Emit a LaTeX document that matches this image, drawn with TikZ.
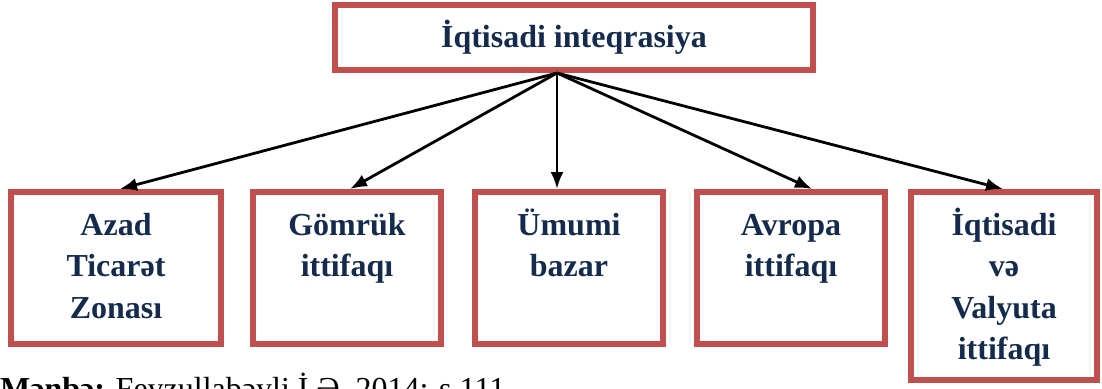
\documentclass[tikz,border=0pt]{standalone}
\usepackage{fontspec}
\setmainfont{Liberation Serif}
\usepackage{tikz}
\usetikzlibrary{positioning, calc}
\usetikzlibrary{arrows.meta}

\definecolor{boxred}{HTML}{C0504D}
\definecolor{navy}{HTML}{142B4C}
\newcommand{\boxtext}[3]{\parbox[t][#1][t]{#2}{\centering\rule{0pt}{43pt}#3}}

\begin{document}
\begin{tikzpicture}[x=1pt, y=-1pt,
    kutu/.style={draw=boxred, line width=6pt, inner sep=0pt, text=navy,
        font=\fontsize{32}{41.5}\selectfont\bfseries},
    ox/.style={-{Latex[length=17pt,width=13pt]}, line width=2.8pt}]
                \useasboundingbox (0,0) rectangle (1102,388);
                \node[kutu] (top) at (574,37.25) {\boxtext{65.5pt}{478.5pt}{İqtisadi inteqrasiya}};
                \node[kutu] (azad) at (116,268) {\boxtext{152pt}{210pt}{Azad\\Ticarət\\Zonası}};
                \node[kutu] (gomruk) at (347,268) {\boxtext{152pt}{188pt}{Gömrük\\ittifaqı}};
                \node[kutu] (bazar) at (569,268) {\boxtext{152pt}{187.5pt}{Ümumi\\bazar}};
                \node[kutu] (avropa) at (791,268) {\boxtext{152pt}{188.5pt}{Avropa\\ittifaqı}};
                \node[kutu] (valyuta) at (1004,286) {\boxtext{188pt}{186pt}{İqtisadi\\və\\Valyuta\\ittifaqı}};
                \coordinate (src) at ([xshift=-17pt]top.south);
                \draw[ox] (src) -- ([xshift=4pt]azad.north);
                \draw[ox] (src) -- ([xshift=3pt]gomruk.north);
                \draw[ox] (src) -- ([xshift=-12pt]bazar.north);
                \draw[ox] (src) -- ([xshift=21pt]avropa.north);
                \draw[ox] (src) -- ([xshift=-1pt]valyuta.north);
                \node[anchor=base west, inner sep=0pt, font=\fontsize{32}{38}\selectfont] (menbe) at (0,399) {\textbf{Mənbə:} Feyzullabəyli İ.Ə. 2014: s.111};
            \end{tikzpicture}
\end{document}
